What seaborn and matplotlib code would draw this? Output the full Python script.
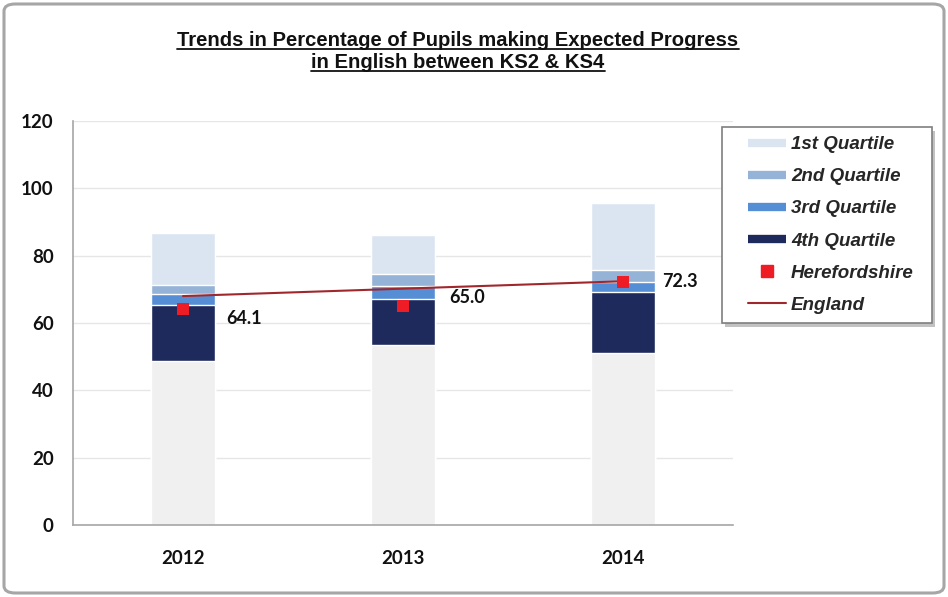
import matplotlib
matplotlib.use("Agg")
import matplotlib.pyplot as plt
from matplotlib.lines import Line2D
from matplotlib.patches import FancyBboxPatch, Rectangle
import seaborn as sns
import numpy as np
import pandas as pd

years = ["2012", "2013", "2014"]
# boundaries of the quartile bands (percent)
band_bottom = [48.7, 53.5, 51.2]
q4_top = [65.4, 67.1, 69.1]
q3_top = [68.6, 71.0, 72.1]
q2_top = [71.3, 74.5, 75.7]
q1_top = [86.6, 86.0, 95.7]
herefordshire = [64.1, 65.0, 72.3]
england = [68.0, 70.2, 72.4]

df = pd.DataFrame({"year": years, "bottom": band_bottom, "q4": q4_top,
                   "q3": q3_top, "q2": q2_top, "q1": q1_top})

sns.set_style("white")
plt.rcParams["font.family"] = ["Liberation Sans", "DejaVu Sans"]

colors = {"q1": "#dbe5f1", "q2": "#95b3d7", "q3": "#558ed5",
          "q4": "#1f2a5c", "bottom": "#f0f0f0"}

W, H = 948, 597
fig = plt.figure(figsize=(W / 100, H / 100), dpi=100)
ax = fig.add_axes([73 / W, 1 - 525 / H, 660 / W, 404 / H])

for col in ["q1", "q2", "q3", "q4", "bottom"]:
    sns.barplot(data=df, x="year", y=col, color=colors[col], width=0.29,
                saturation=1, ax=ax, zorder=2)

pos = np.arange(len(years))
sns.lineplot(x=pos, y=england, color="#a0282d", linewidth=1.5, ax=ax, zorder=3)
sns.scatterplot(x=pos, y=herefordshire, marker="s", s=70, color="#ee1c25",
                linewidth=0, ax=ax, zorder=4)

offsets = [(31, -6.5), (33, 6.5), (28, 0)]
for x, v, off in zip(pos, herefordshire, offsets):
    ax.annotate(f"{v:.1f}", (x, v), xytext=off, textcoords="offset points",
                ha="left", va="center", fontsize=13, fontweight="bold",
                family="Lato", color="#111111")

ax.set_xlim(-0.5, 2.5)
ax.set_ylim(0, 120)
ax.set_yticks(range(0, 121, 20))
ax.set_xticks(pos)
ax.set_xticklabels(years)
ax.set_xticks([0.5, 1.5, 2.5], minor=True)
ax.set_xlabel("")
ax.set_ylabel("")
ax.grid(axis="y", color="#e6e6e6", linewidth=1, zorder=0)
ax.set_axisbelow(True)
for s in ["top", "right"]:
    ax.spines[s].set_visible(False)
for s in ["left", "bottom"]:
    ax.spines[s].set_color("#a6a6a6")
    ax.spines[s].set_linewidth(1.2)
ax.tick_params(axis="y", which="major", length=5, color="#a6a6a6", pad=9)
ax.tick_params(axis="x", which="major", length=0, pad=18)
ax.tick_params(axis="x", which="minor", length=4, color="#a6a6a6")
for lab in ax.get_xticklabels() + ax.get_yticklabels():
    lab.set_family("Lato")
    lab.set_fontweight("bold")
    lab.set_fontsize(13.5)
    lab.set_color("#111111")

# legend box with shadow, drawn by hand
shadow = Rectangle((725 / W, 1 - 327 / H), 210 / W, 196 / H,
                   transform=fig.transFigure, facecolor="#9a9a9a",
                   edgecolor="none", alpha=0.6, zorder=5)
box = Rectangle((722 / W, 1 - 323 / H), 210 / W, 196 / H,
                transform=fig.transFigure, facecolor="white",
                edgecolor="#7f7f7f", linewidth=1.2, zorder=6)
fig.add_artist(shadow)
fig.add_artist(box)

handles = [
    Line2D([], [], color=colors["q1"], lw=6, solid_capstyle="butt"),
    Line2D([], [], color=colors["q2"], lw=6, solid_capstyle="butt"),
    Line2D([], [], color=colors["q3"], lw=6, solid_capstyle="butt"),
    Line2D([], [], color=colors["q4"], lw=6, solid_capstyle="butt"),
    Line2D([], [], color="#ee1c25", marker="s", ms=8, lw=0),
    Line2D([], [], color="#a0282d", lw=1.5),
]
labels = ["1st Quartile", "2nd Quartile", "3rd Quartile", "4th Quartile",
          "Herefordshire", "England"]
leg = fig.legend(handles, labels, loc="upper left",
                 bbox_to_anchor=(748 / W, 1 - 136 / H),
                 bbox_transform=fig.transFigure, borderaxespad=0,
                 frameon=False,
                 prop={"family": "Liberation Sans", "weight": "bold",
                       "style": "italic", "size": 13.5},
                 handlelength=2.0, handletextpad=0.3, labelspacing=0.8,
                 borderpad=0)
leg.set_zorder(7)

title_lines = ["Trends in Percentage of Pupils making Expected Progress",
               "in English between KS2 & KS4"]
fig.canvas.draw()
renderer = fig.canvas.get_renderer()
for i, line in enumerate(title_lines):
    t = fig.text(458 / W, 1 - (46 + 22 * i) / H, line, ha="center",
                 va="baseline", fontsize=14.6, fontweight="bold",
                 color="#111111")
    bb = t.get_window_extent(renderer=renderer)
    fig.add_artist(Line2D([bb.x0 / W, bb.x1 / W],
                          [(bb.y0 + 1) / H, (bb.y0 + 1) / H],
                          color="#111111", lw=1.3, transform=fig.transFigure))

frame = FancyBboxPatch((4 / W, 4 / H), 940 / W, 589 / H,
                       boxstyle="round,pad=0,rounding_size=0.012",
                       transform=fig.transFigure, facecolor="none",
                       edgecolor="#a6a6a6", linewidth=2.2)
fig.add_artist(frame)

fig.savefig("out.png", dpi=100)
